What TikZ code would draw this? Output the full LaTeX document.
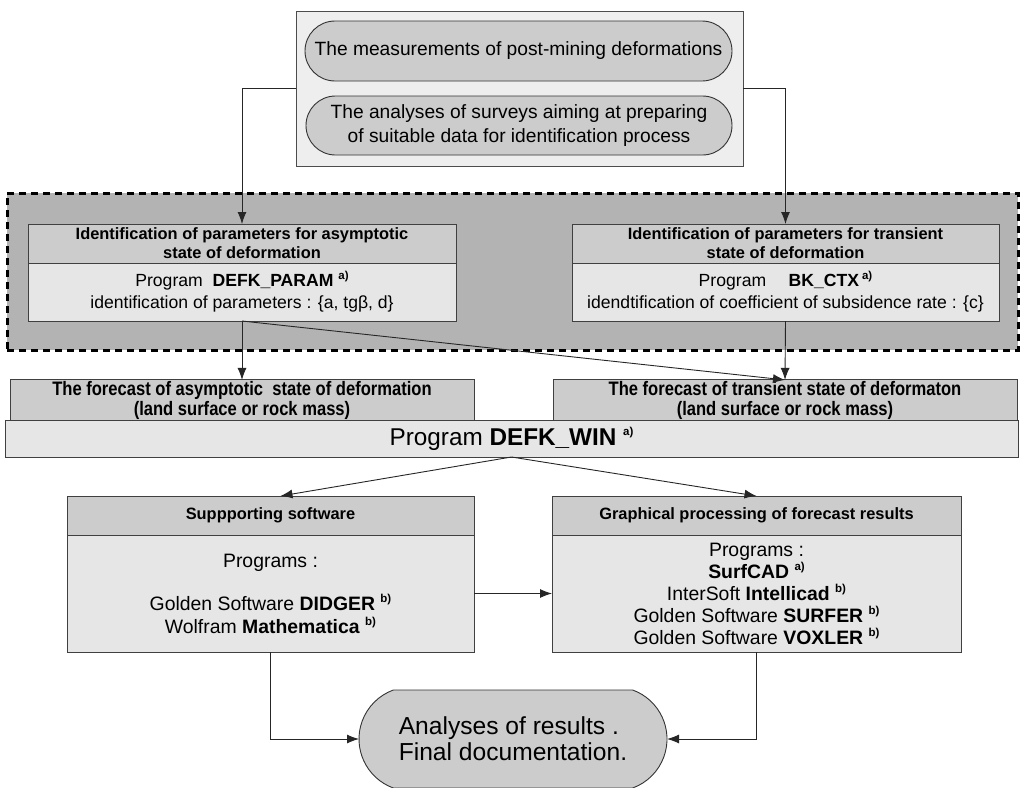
\documentclass[tikz,border=0pt]{standalone}
\usepackage{fontspec}
\setmainfont{Liberation Sans}
\newfontfamily\narrowfont[FakeStretch=0.85]{Liberation Sans}
\usetikzlibrary{arrows.meta,shapes.misc}
\definecolor{hdrgray}{HTML}{CCCCCC}
\definecolor{bodygray}{HTML}{E6E6E6}
\definecolor{topgray}{HTML}{EEEEEE}
\definecolor{grpgray}{HTML}{B3B3B3}
\newcommand\supx[1]{\raisebox{0.4em}{\fontsize{11.5}{12}\selectfont\bfseries #1}}
\begin{document}
\begin{tikzpicture}[x=1pt,y=-1pt,
  box/.style={draw=black!75, line width=0.9pt, outer sep=0pt, inner sep=1pt, align=center, text=black},
  hdr/.style={box, fill=hdrgray, font=\fontsize{16.4}{19}\selectfont\bfseries},
  bdy/.style={box, fill=bodygray, font=\fontsize{17.6}{22}\selectfont},
  fcst/.style={box, fill=hdrgray, font=\fontsize{19.5}{20}\selectfont\narrowfont\bfseries},
  capsule/.style={draw=black!80, line width=0.9pt, rounded rectangle, fill=hdrgray, outer sep=0pt, inner sep=1pt, align=center},
  arr/.style={draw=black!85, line width=0.9pt, -{Latex[length=12pt,width=9pt]}},
  ln/.style={draw=black!85, line width=0.9pt}]
\useasboundingbox (0,0) rectangle (1022,787);
% group
\node[draw=black, line width=3pt, dash pattern=on 7pt off 5pt, fill=grpgray, minimum width=1011pt, minimum height=157pt, outer sep=0pt] (grp) at (512.5,271.5) {};
% top box
\node[draw=black!70, line width=0.9pt, fill=topgray, minimum width=447pt, minimum height=155pt, outer sep=0pt] (top) at (519.5,88.5) {};
\node[capsule, minimum width=429pt, minimum height=60pt, font=\fontsize{19.2}{24}\selectfont] (cap1) at (518.5,51) {The measurements of post-mining deformations};
\node[capsule, minimum width=428pt, minimum height=59pt, font=\fontsize{19.2}{24}\selectfont] (cap2) at (519,125.5) {The analyses of surveys aiming at preparing\\of suitable data for identification process};
% identification boxes
\node[hdr, minimum width=428pt, minimum height=39pt] (hdrL) at (242,243.5) {Identification of parameters for asymptotic\\state of deformation};
\node[bdy, minimum width=428pt, minimum height=58pt] (bodyL) at (242,292) {Program~~\textbf{DEFK\_PARAM}~\supx{a)}\\identification of parameters : \{a, tgβ, d\}};
\node[hdr, minimum width=427pt, minimum height=39pt] (hdrR) at (785.5,243.5) {Identification of parameters for transient\\state of deformation};
\node[bdy, minimum width=427pt, minimum height=58pt] (bodyR) at (785.5,292) {Program \quad\textbf{BK\_CTX}\,\supx{a)}\\idendtification of coefficient of subsidence rate : \{c\}};
% forecast
\node[fcst, minimum width=464pt, minimum height=40pt] (fcL) at (242,400) {The forecast of asymptotic\ \ state of deformation\\(land surface or rock mass)};
\node[fcst, minimum width=464pt, minimum height=40pt] (fcR) at (785,400) {The forecast of transient state of deformaton\\(land surface or rock mass)};
\node[box, fill=bodygray, minimum width=1013pt, minimum height=37pt, font=\fontsize{24.3}{26}\selectfont] (prog) at (511.5,438.5) {Program \textbf{DEFK\_WIN}~\supx{a)}};
% supporting
\node[hdr, minimum width=407pt, minimum height=39pt] (supH) at (270.5,515.5) {Suppporting software};
\node[bdy, minimum width=407pt, minimum height=117pt, font=\fontsize{19.4}{22.5}\selectfont] (supB) at (270.5,593.5) {Programs :\\[21pt]Golden Software \textbf{DIDGER}~\supx{b)}\\Wolfram \textbf{Mathematica}~\supx{b)}};
\node[hdr, minimum width=409pt, minimum height=39pt] (grH) at (756.5,515.5) {Graphical processing of forecast results};
\node[bdy, minimum width=409pt, minimum height=117pt, font=\fontsize{19.4}{22}\selectfont] (grB) at (756.5,593.5) {Programs :\\\textbf{SurfCAD}~\supx{a)}\\InterSoft \textbf{Intellicad}~\supx{b)}\\Golden Software \textbf{SURFER}~\supx{b)}\\Golden Software \textbf{VOXLER}~\supx{b)}};
% final
\node[capsule, rounded rectangle arc length=140, minimum width=310pt, minimum height=98pt, align=left, font=\fontsize{24.6}{26}\selectfont] (fin) at (513,739) {Analyses of results .\\Final documentation.};
% connectors
\draw[arr] (top.west) -| (hdrL.north);
\draw[arr] (top.east) -| (hdrR.north);
\draw[arr] (bodyL.south) -- (fcL.north);
\draw[arr] (bodyL.south) -- (fcR.north);
\draw[arr] (bodyR.south) -- (fcR.north);
\draw[arr] (prog.south) -- ([xshift=10pt]supH.north);
\draw[arr] (prog.south) -- (grH.north);
\draw[arr] (supB.east) -- (grB.west);
\draw[arr] (supB.south) |- (fin.west);
\draw[arr] (grB.south) |- (fin.east);
\end{tikzpicture}
\end{document}
